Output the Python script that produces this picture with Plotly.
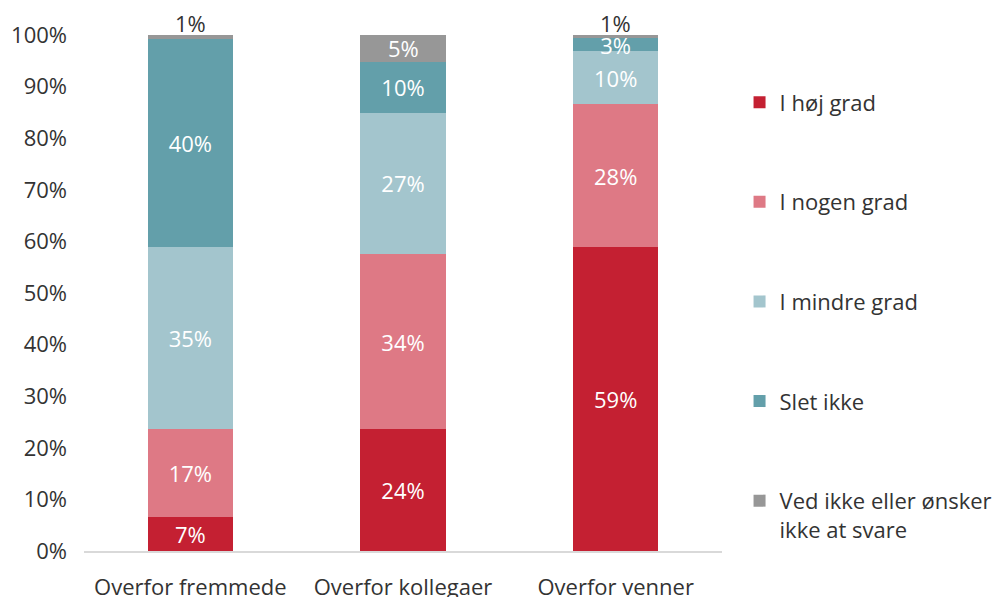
import plotly.graph_objects as go

categories = ["Overfor fremmede", "Overfor kollegaer", "Overfor venner"]
series_names = ["I høj grad", "I nogen grad", "I mindre grad", "Slet ikke",
                "Ved ikke eller ønsker<br>ikke at svare"]
hoej = [6.6, 23.6, 58.9]
nogen = [17.0, 34.0, 27.7]
mindre = [35.4, 27.3, 10.3]
slet = [40.2, 9.9, 2.5]
vedikke = [0.8, 5.2, 0.6]
colors = ["#C42032", "#DE7985", "#A3C5CD", "#639FAA", "#979797"]

tick_vals = [0, 10, 20, 30, 40, 50, 60, 70, 80, 90, 100]
tick_text = [f"{v}%" for v in tick_vals]

FONT = "Open Sans, Lato, sans-serif"
TXT = "#333333"
FS = 22


def pct(v):
    return f"{int(v + 0.5)}%"


fig = go.Figure()
all_series = [hoej, nogen, mindre, slet, vedikke]
for i, (name, vals, col) in enumerate(zip(series_names, all_series, colors)):
    last = i == len(all_series) - 1
    fig.add_trace(go.Bar(
        x=categories, y=vals, name=name,
        marker=dict(color=col, line=dict(width=0)),
        text=None if last else [pct(v) for v in vals],
        textposition="none" if last else "inside",
        insidetextanchor="middle",
        textfont=dict(color="white", size=FS, family=FONT),
        constraintext="none",
        legendgroup=f"g{i}",
        hoverinfo="skip",
    ))

# labels for the top (small) segment: inside if tall enough, else above the bar
below = [a + b + c + d for a, b, c, d in zip(hoej, nogen, mindre, slet)]
for cat, base, v in zip(categories, below, vedikke):
    if v >= 3:
        fig.add_annotation(x=cat, y=base + v / 2, text=pct(v),
                           showarrow=False, yanchor="middle",
                           font=dict(color="white", size=FS, family=FONT))
    else:
        fig.add_annotation(x=cat, y=base + v, text=pct(v),
                           showarrow=False, yanchor="bottom", yshift=-5,
                           font=dict(color=TXT, size=FS, family=FONT))

fig.update_layout(
    barmode="stack",
    bargap=0.6,
    width=1004, height=597,
    margin=dict(l=76, r=290, t=27, b=54, autoexpand=False),
    paper_bgcolor="white", plot_bgcolor="white",
    font=dict(family=FONT, size=FS, color=TXT),
    showlegend=True,
    legend=dict(
        x=1.0275, y=0.91, xanchor="left", yanchor="top",
        traceorder="grouped", tracegroupgap=68,
        valign="top",
        font=dict(size=FS, family=FONT, color=TXT),
    ),
    xaxis=dict(
        showline=True, linecolor="#D9D9D9", linewidth=2,
        ticks="", showgrid=False, automargin=False,
        ticklabelstandoff=16,
        tickfont=dict(size=FS, family=FONT, color=TXT),
    ),
    yaxis=dict(
        range=[0, 100], tickvals=tick_vals, ticktext=tick_text,
        showgrid=False, zeroline=False, showline=False, automargin=False,
        ticks="", ticklabelstandoff=16,
        tickfont=dict(size=FS, family=FONT, color=TXT),
    ),
)

fig.write_html("out.html")
